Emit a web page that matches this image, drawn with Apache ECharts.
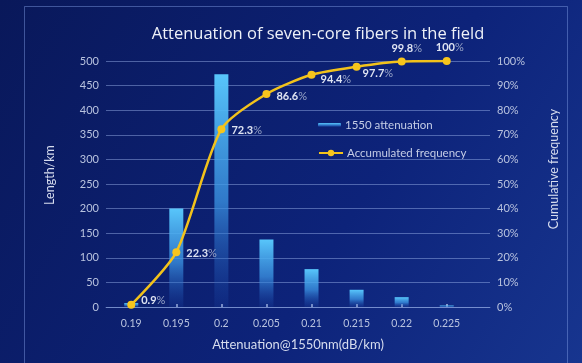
<!DOCTYPE html>
<html>
<head>
<meta charset="utf-8">
<script src="https://cdn.jsdelivr.net/npm/echarts@6/dist/echarts.min.js"></script>
<style>
html,body{margin:0;padding:0;background:#0b1d66;}
#chart{width:582px;height:363px;}
</style>
</head>
<body>
<div id="chart"></div>
<script>
const categories = [0.19, 0.195, 0.2, 0.205, 0.21, 0.215, 0.22, 0.225];
const lengthKm = [8, 200, 473, 137, 77, 35, 20, 3];
const cumulative = [0.9, 22.3, 72.3, 86.6, 94.4, 97.7, 99.8, 100];
const leftTicks = [0, 50, 100, 150, 200, 250, 300, 350, 400, 450, 500];
const rightTicks = [0, 10, 20, 30, 40, 50, 60, 70, 80, 90, 100];

const chart = echarts.init(document.getElementById('chart'), null, {renderer: 'canvas'});
const FONT = 'Lato, "Open Sans", sans-serif';
const TITLE_FONT = '"Open Sans", Lato, sans-serif';
const labelColor = '#b9c3df';

const labelPlace = [
  {position: 'right', distance: 6, offset: [0, -4]},
  {position: 'right', distance: 6, offset: [0, 1]},
  {position: 'right', distance: 6, offset: [0, 1]},
  {position: 'right', distance: 6, offset: [0, 2]},
  {position: 'right', distance: 5, offset: [0, 5]},
  {position: 'right', distance: 2, offset: [0, 7]},
  {position: 'top', distance: 4, offset: [5, 0]},
  {position: 'top', distance: 4, offset: [3, 0]}
];

const option = {
  backgroundColor: new echarts.graphic.LinearGradient(0, 0, 1, 1, [
    {offset: 0, color: '#09185a'},
    {offset: 0.6, color: '#0d237a'},
    {offset: 1, color: '#17358f'}
  ]),
  textStyle: {fontFamily: FONT},
  graphic: [{
    type: 'rect', silent: true,
    shape: {x: 24.5, y: 6.5, width: 543, height: 370},
    style: {fill: 'none', stroke: 'rgba(130,160,230,0.45)', lineWidth: 1}
  }],
  title: {
    text: 'Attenuation of seven-core fibers in the field',
    left: 313, top: 21, textAlign: 'center',
    textStyle: {color: '#eef1f8', fontSize: 16.5, fontWeight: 'normal', fontFamily: TITLE_FONT}
  },
  legend: [{
    data: ['1550 attenuation'],
    orient: 'vertical', left: 318, top: 119, padding: 0, itemGap: 0,
    itemWidth: 23, itemHeight: 4,
    textStyle: {color: '#c5cde6', fontSize: 11.5, fontFamily: FONT, padding: [0, 0, 0, -1]}
  }, {
    data: ['Accumulated frequency'],
    orient: 'vertical', left: 318, top: 147, padding: 0, itemGap: 0,
    itemWidth: 24, itemHeight: 8,
    textStyle: {color: '#c5cde6', fontSize: 11.5, fontFamily: FONT, padding: [0, 0, 0, -1]}
  }],
  grid: {left: 106, right: 92, top: 61, bottom: 56},
  xAxis: {
    type: 'value',
    min: 0.1872, max: 0.2298,
    name: 'Attenuation@1550nm(dB/km)',
    nameLocation: 'middle', nameGap: 31,
    nameTextStyle: {color: '#d6dcee', fontSize: 13},
    axisLine: {show: true, lineStyle: {color: 'rgba(160,185,240,0.45)'}},
    axisTick: {show: true, inside: true, length: 3, customValues: categories,
      lineStyle: {color: 'rgba(220,230,255,0.8)', width: 1.5}},
    axisLabel: {color: labelColor, fontSize: 10.5, margin: 11, customValues: categories,
      formatter: v => String(v)},
    splitLine: {show: false}
  },
  yAxis: [{
    type: 'value', min: 0, max: 500, interval: 50,
    name: 'Length/km', nameLocation: 'middle', nameGap: 50, nameRotate: 90,
    nameTextStyle: {color: '#d6dcee', fontSize: 12.5, padding: [0, 0, 0, 18]},
    axisLine: {show: false}, axisTick: {show: false},
    axisLabel: {color: labelColor, fontSize: 11, margin: 7},
    splitLine: {lineStyle: {color: 'rgba(160,185,240,0.45)', width: 1}}
  }, {
    type: 'value', min: 0, max: 100, interval: 10,
    name: 'Cumulative frequency', nameLocation: 'middle', nameGap: 57, nameRotate: 90,
    nameTextStyle: {color: '#d6dcee', fontSize: 12.5, padding: [0, 0, 0, 30]},
    axisLine: {show: false}, axisTick: {show: false},
    axisLabel: {color: labelColor, fontSize: 11, margin: 7, formatter: '{value}%'},
    splitLine: {show: false}
  }],
  series: [{
    name: '1550 attenuation',
    type: 'bar',
    barWidth: 14,
    data: categories.map((c, i) => [c, lengthKm[i]]),
    itemStyle: {
      color: new echarts.graphic.LinearGradient(0, 0, 0, 1, [
        {offset: 0, color: '#58c6fb'},
        {offset: 0.55, color: 'rgba(60,150,230,0.75)'},
        {offset: 1, color: 'rgba(30,80,180,0.15)'}
      ])
    }
  }, {
    name: 'Accumulated frequency',
    type: 'line',
    yAxisIndex: 1,
    smooth: 0.25,
    symbol: 'circle', symbolSize: 8,
    lineStyle: {color: '#f2c21b', width: 2.5},
    itemStyle: {color: '#f7c51c'},
    data: categories.map((c, i) => ({
      value: [c, cumulative[i]],
      label: Object.assign({
        show: true,
        formatter: p => '{v|' + p.value[1] + '}{p|%}',
        rich: {
          v: {color: '#dfe4f2', fontSize: 11, fontWeight: 'bold', fontFamily: FONT},
          p: {color: '#9aa6c8', fontSize: 11, fontFamily: FONT}
        }
      }, labelPlace[i])
    })),
    z: 5
  }]
};
chart.setOption(option);
</script>
</body>
</html>
